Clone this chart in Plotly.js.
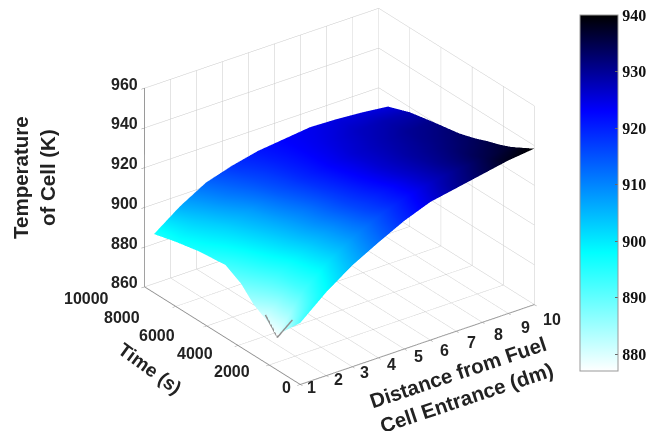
<!DOCTYPE html>
<html><head><meta charset="utf-8">
<script src="https://cdn.plot.ly/plotly-3.0.1.min.js"></script>
<style>html,body{margin:0;padding:0;background:#fff}#p{width:652px;height:431px}</style>
</head><body><div id="p"></div>
<script>
const distance=[1,2,3,4,5,6,7,8,9,10];
const time=[0,1500,2250,3000,3800,4800,6500,8000,9400];
const temperature=[
[891,902,911,918,924.5,929.5,932,934.5,937,938.5],
[877.5,895,906,914,920.5,925,928,930,931,932],
[882,896,905.5,912.5,918,922.5,925.5,927.5,928.5,929.5],
[885.5,897,905,911,916,920,923,925,926.5,927.5],
[892,899,905.5,910.5,915,918.5,921,923,924,925],
[896.5,901,906,910.5,914,917,919,920.5,921.5,922.5],
[895,902,907.5,911,914,916,917.5,918.5,919.5,920],
[892.5,900.5,907,911,914,915.5,916.5,917,917.5,917.5],
[889.5,899,906.5,910.5,913.5,915,916.5,916,915,913.5]];
const shade=[
[892,898,905,912,919,925,930,934,938,940],
[878,892,901,909,916,922,927,931,935,937],
[880,893,901.5,909,916,921.5,926.5,930.5,934,936],
[884,894,902,909,916,921,926,930,933,935],
[889,896.5,903.5,910,916.5,921.5,926,929.5,932,934],
[893,899,905,911,917,922,926,929,931,933],
[896,902,908,914,919,923,926,928,930,931],
[897,904,911,916,920,923,925,927,928,928],
[896,906,913,918,921,923,924,925,925,925]];
const edgeDist=[1,1,1];
const edgeTime=[2240,1470,510];
const edgeTemp=[884,876.5,890];
const zTicks=[860,880,900,920,940,960];
const timeTicks=[0,2000,4000,6000,8000,10000];
const barTicks=[880,890,900,910,920,930,940];
const timeShiftX=[-13,-37,-43,-49,-53,-58];
const timeShiftY=[-3,-7,-8,-10,-11,-12];
const distShiftX=[12,13,13,14,15,15,16,17,18,18];
const distShiftY=[-3,-4,-6,-7,-8,-10,-11,-12,-14,-15];
const tickFont={family:'Liberation Sans, Arial, sans-serif',size:16,color:'#222',weight:700};
const note=(x,y,z,text,xshift,yshift)=>({x,y,z,text:String(text),xshift,yshift,showarrow:false,xanchor:'center',yanchor:'middle',font:tickFont});
const ax=(extra)=>Object.assign({title:{text:''},showbackground:false,showspikes:false,
  gridcolor:'#c8c8c8',gridwidth:1,showline:true,linecolor:'#8c8c8c',linewidth:2,zeroline:false,
  ticks:'outside',ticklen:4,tickcolor:'#8c8c8c',showticklabels:false},extra);
const tf={family:'Liberation Sans, Arial, sans-serif',size:20.5,color:'#222',weight:700};
const tt={family:'Liberation Sans, Arial, sans-serif',size:19,color:'#222',weight:700};
Plotly.newPlot('p',[
{type:'surface',x:distance,y:time,z:temperature,surfacecolor:shade,cmin:877,cmax:940,
 colorscale:[[0,'#ffffff'],[0.333,'#00ffff'],[0.73,'#0000ff'],[1,'#000000']],
 lighting:{ambient:1,diffuse:0,specular:0,roughness:1,fresnel:0},hoverinfo:'skip',
 colorbar:{thicknessmode:'pixels',thickness:38,lenmode:'pixels',len:356,x:580/652,xanchor:'left',
  y:1-15/431,yanchor:'top',tickvals:barTicks,ticks:'inside',ticklen:3,tickcolor:'#666',
  outlinecolor:'#999',outlinewidth:1,xpad:0,ypad:0,
  tickfont:{family:'Liberation Serif, serif',size:16,color:'#111',weight:700}}},
{type:'scatter3d',mode:'lines',x:edgeDist,y:edgeTime,z:edgeTemp,line:{color:'#8f8f8f',width:3},showlegend:false,hoverinfo:'skip'}
],{
 width:652,height:431,margin:{l:0,r:0,t:0,b:0,autoexpand:false},paper_bgcolor:'#fff',showlegend:false,
 scene:{domain:{x:[0.125,0.915],y:[0.0,1]},bgcolor:'#fff',
  camera:{projection:{type:'orthographic'},eye:{x:-1.024,y:-1.388,z:0.8},up:{x:0,y:0,z:1},center:{x:0,y:0,z:-0.1}},
  aspectmode:'manual',aspectratio:{x:1.35,y:1.217,z:1.04},
  xaxis:ax({range:[1,10],tickvals:distance}),
  yaxis:ax({range:[0,10000],tickvals:timeTicks}),
  zaxis:ax({range:[860,960],tickvals:zTicks}),
  annotations:[
   ...zTicks.map(v=>note(1,10000,v,v,-20,4)),
   ...timeTicks.map((v,i)=>note(1,v,860,v,timeShiftX[i],timeShiftY[i])),
   ...distance.map((v,i)=>note(v,0,860,v,distShiftX[i],distShiftY[i]))
  ]},
 annotations:[
  {text:'Temperature<br>of Cell (K)',x:34,y:178,textangle:-90,font:tf},
  {text:'Time (s)',x:150,y:368,textangle:36,font:tt},
  {text:'Distance from Fuel<br>Cell Entrance (dm)',x:462,y:385,textangle:-18.5,font:tf}
 ].map(a=>Object.assign(a,{showarrow:false,xanchor:'center',yanchor:'middle',xref:'paper',yref:'paper',x:a.x/652,y:1-a.y/431}))
},{displayModeBar:false});
</script></body></html>
